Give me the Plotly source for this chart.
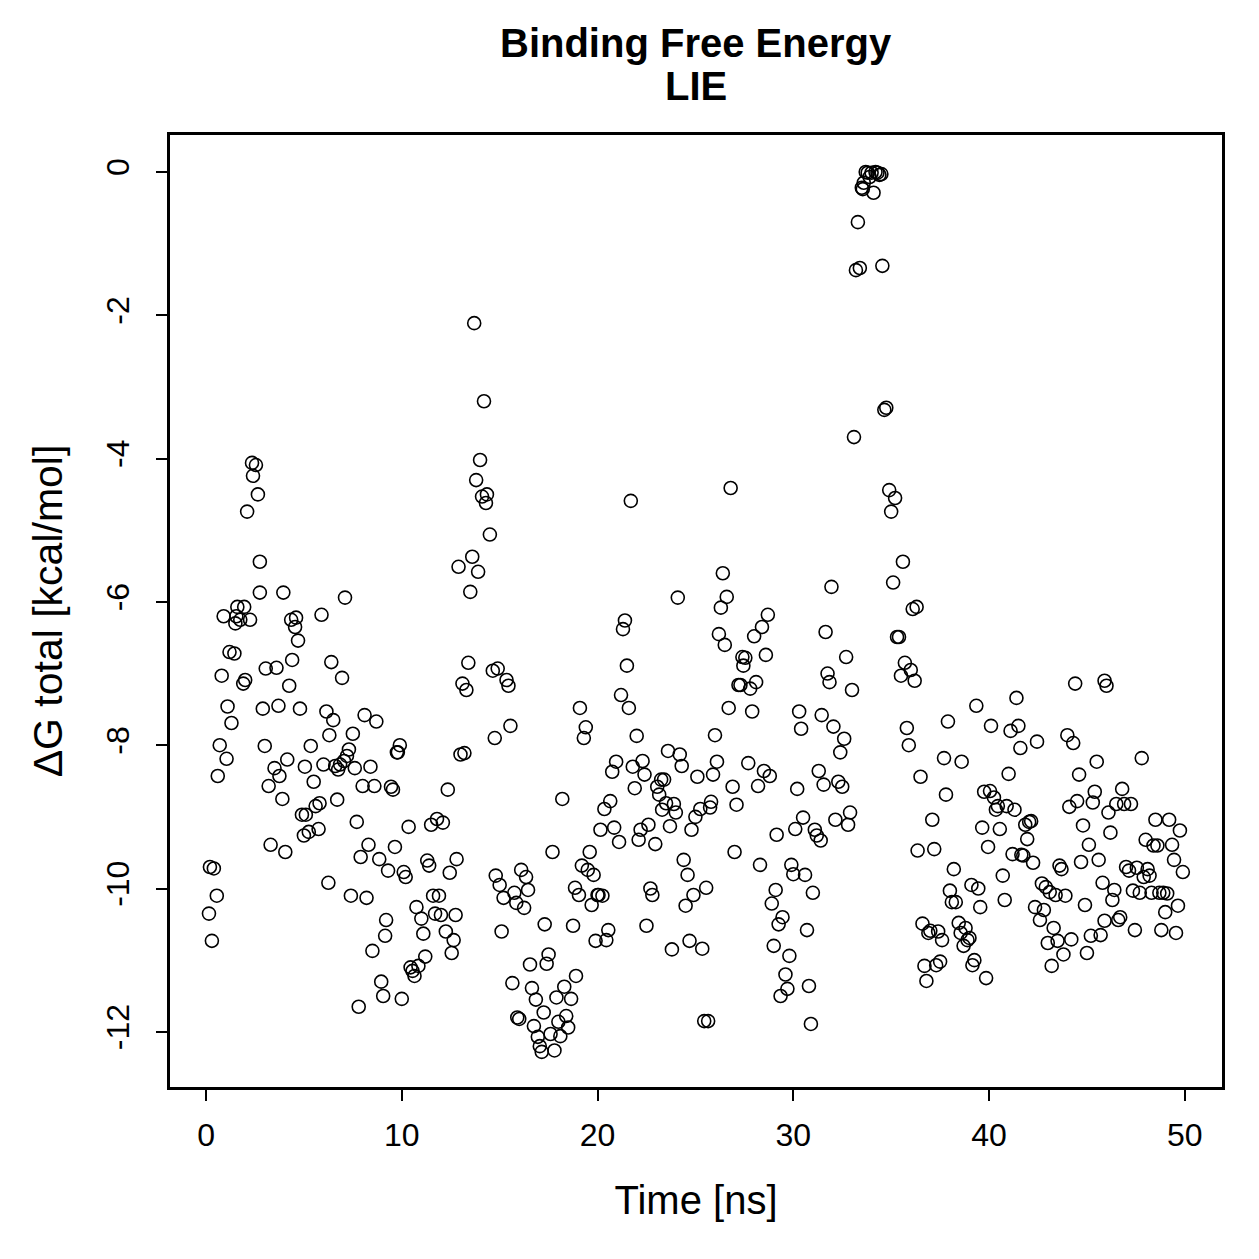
import plotly.graph_objects as go

time_ns = [
0.15,0.2,0.4,0.3,0.55,0.6,0.7,0.8,0.9,1.05,1.1,1.2,1.3,1.45,1.5,1.55,1.6,1.75,1.9,1.95,
2.0,2.1,2.25,2.35,2.4,2.55,2.65,2.75,2.75,2.9,3.0,3.05,3.2,3.3,3.5,3.6,3.7,3.75,3.9,3.95,
4.05,4.15,4.25,4.35,4.4,4.55,4.6,4.7,4.8,4.9,5.05,
5.0,5.1,5.25,5.35,5.5,5.6,5.75,5.8,5.9,6.0,6.15,6.25,6.3,6.4,6.5,6.6,6.7,6.75,6.85,6.95,
7.05,7.1,7.2,7.3,7.4,7.5,7.6,7.7,7.8,7.9,8.0,8.1,8.2,8.3,8.4,8.5,8.6,8.7,8.85,8.95,
9.05,9.15,9.2,9.3,9.45,9.55,9.65,9.75,9.8,9.9,10.0,10.1,10.2,10.35,10.45,10.55,10.65,10.75,10.85,11.0,
11.1,11.2,11.3,11.4,11.5,11.6,11.7,11.8,11.9,12.0,12.1,12.25,12.35,12.45,12.55,12.65,12.75,12.8,12.9,13.0,
13.1,13.2,13.3,13.4,13.5,13.6,13.7,13.8,13.9,14.0,14.1,14.2,14.3,14.35,14.5,14.65,14.75,14.8,14.9,15.0,
15.1,15.2,15.35,15.45,15.55,15.65,15.75,15.85,15.9,16.0,16.1,16.25,16.35,16.45,16.55,16.65,16.75,16.85,16.95,17.05,
17.15,17.25,17.3,17.4,17.5,17.6,17.7,17.8,17.9,18.0,18.1,18.2,18.3,18.4,18.5,18.65,18.75,18.85,18.9,19.05,
19.1,19.2,19.3,19.4,19.5,19.6,19.7,19.8,19.9,20.0,20.05,20.15,20.25,20.35,20.45,20.55,20.65,20.75,20.85,20.95,
21.1,21.2,21.3,21.4,21.5,21.6,21.7,21.8,21.9,22.0,22.1,22.2,22.3,22.4,22.5,22.6,22.7,22.8,22.95,23.05,
23.15,23.25,23.3,23.4,23.5,23.6,23.7,23.8,23.9,24.0,24.1,24.2,24.3,24.4,24.5,24.6,24.7,24.8,24.9,25.0,
25.1,25.25,25.35,25.45,25.55,25.65,25.75,25.8,25.9,26.0,26.1,26.2,26.3,26.4,26.5,26.6,26.7,26.8,26.9,27.0,
27.1,27.2,27.3,27.4,27.45,27.55,27.7,27.8,27.9,28.0,28.1,28.2,28.3,28.4,28.5,28.6,28.7,28.8,28.9,29.0,
29.1,29.15,29.25,29.35,29.45,29.6,29.7,29.8,29.9,30.0,30.1,30.2,30.3,30.4,30.5,30.6,30.7,30.8,30.9,31.0,
31.1,31.2,31.3,31.4,31.45,31.55,31.65,31.75,31.85,31.95,32.05,32.15,32.3,32.4,32.5,32.6,32.7,32.8,32.9,33.0,
33.1,33.2,33.3,33.4,33.5,33.55,33.6,33.7,33.8,33.9,34.0,34.1,34.2,34.3,34.4,34.5,34.55,34.65,34.75,34.9,
35.0,35.1,35.2,35.3,35.4,35.5,35.6,35.7,35.8,35.9,36.0,36.1,36.2,36.3,36.35,36.5,36.6,36.7,36.8,36.9,
37.0,37.1,37.2,37.3,37.4,37.5,37.6,37.7,37.8,37.9,38.0,38.1,38.2,38.3,38.45,38.55,38.6,38.7,38.8,38.9,
39.0,39.1,39.15,39.25,39.35,39.45,39.55,39.65,39.75,39.85,39.95,40.05,40.1,40.25,40.35,40.45,40.55,40.7,40.8,40.9,
41.0,41.1,41.2,41.3,41.4,41.5,41.6,41.65,41.75,41.85,41.95,42.05,42.15,42.25,42.35,42.45,42.6,42.7,42.8,42.9,
43.0,43.1,43.2,43.3,43.4,43.5,43.6,43.7,43.8,43.9,44.0,44.1,44.2,44.3,44.4,44.5,44.6,44.7,44.8,44.9,
45.0,45.1,45.2,45.3,45.4,45.5,45.6,45.7,45.8,45.9,45.9,46.0,46.1,46.2,46.3,46.4,46.5,46.6,46.7,46.8,
46.9,47.0,47.15,47.25,47.35,47.45,47.55,47.7,47.8,47.9,48.0,48.1,48.2,48.3,48.4,48.5,48.6,48.7,48.8,48.9,
49.0,49.1,49.2,49.35,49.45,49.55,49.65,49.75,49.9,
]

dg_total = [
-10.35,-9.7,-9.72,-10.73,-10.1,-8.43,-8.0,-7.03,-6.2,-8.19,-7.46,-6.7,-7.69,-6.72,-6.3,-6.2,-6.07,-6.25,-7.14,-6.07,
-7.09,-4.74,-6.25,-4.06,-4.24,-4.09,-4.5,-5.44,-5.87,-7.49,-8.01,-6.93,-8.57,-9.39,-8.32,-6.92,-7.45,-8.43,-8.75,-5.87,
-9.49,-8.2,-7.17,-6.25,-6.81,-6.35,-6.22,-6.54,-7.49,-8.97,-8.3,
-9.26,-8.97,-9.21,-8.01,-8.51,-8.85,-9.17,-8.81,-6.18,-8.27,-7.53,-9.92,-7.86,-6.84,-7.65,-8.29,-8.76,-8.34,-8.27,-7.06,
-8.22,-5.94,-8.15,-8.06,-10.1,-7.84,-8.32,-9.07,-11.65,-9.56,-8.57,-7.58,-10.13,-9.39,-8.3,-10.87,-8.57,-7.67,-9.59,-11.3,
-11.5,-10.66,-10.44,-9.75,-8.58,-8.62,-9.42,-8.1,-8.1,-8.0,-11.54,-9.77,-9.84,-9.14,-11.1,-11.15,-11.22,-10.26,-11.08,-10.42,
-10.63,-10.95,-9.61,-9.68,-9.11,-10.1,-10.35,-9.03,-10.1,-10.37,-9.08,-10.6,-8.62,-9.78,-10.9,-10.72,-10.37,-9.59,-5.51,-8.13,
-7.14,-8.11,-7.23,-6.85,-5.86,-5.37,-2.11,-4.3,-5.58,-4.02,-4.53,-3.2,-4.62,-4.5,-5.06,-6.96,-7.9,-9.82,-6.93,-9.95,
-10.6,-10.13,-7.09,-7.17,-7.73,-11.32,-10.06,-10.2,-11.8,-11.82,-9.74,-10.27,-9.84,-10.02,-11.06,-11.39,-11.92,-11.55,-12.07,-12.2,
-12.28,-11.73,-10.5,-11.05,-10.92,-12.03,-9.49,-12.26,-11.52,-11.86,-12.06,-8.75,-11.37,-11.78,-11.94,-11.54,-10.52,-9.99,-11.22,-10.09,
-7.48,-9.68,-7.9,-7.75,-9.74,-9.49,-10.23,-9.81,-10.73,-10.09,-10.09,-9.18,-10.1,-8.89,-10.72,-10.58,-8.78,-8.37,-9.15,-8.23,
-9.35,-7.3,-6.38,-6.26,-6.89,-7.48,-4.59,-8.3,-8.6,-7.87,-9.32,-9.18,-8.22,-8.41,-10.52,-9.11,-10.0,-10.09,-9.38,-8.58,
-8.69,-8.48,-8.9,-8.48,-8.81,-8.08,-9.13,-10.85,-8.82,-8.94,-5.94,-8.13,-8.29,-9.6,-10.24,-9.81,-10.73,-9.18,-10.09,-9.0,
-8.44,-8.89,-10.84,-11.85,-9.99,-11.85,-8.87,-8.79,-8.41,-7.86,-8.23,-6.45,-6.08,-5.6,-6.6,-5.93,-7.48,-4.41,-8.58,-9.49,
-8.83,-7.16,-7.16,-6.77,-6.89,-6.78,-8.25,-7.21,-7.53,-6.48,-7.12,-8.57,-9.67,-6.35,-8.36,-6.74,-6.18,-8.43,-10.21,-10.8,
-10.02,-9.25,-10.5,-11.5,-10.4,-11.2,-11.4,-10.94,-9.67,-9.8,-9.17,-8.61,-7.53,-7.77,-9.01,-9.81,-10.58,-11.36,-11.89,-10.06,
-9.18,-9.26,-8.36,-9.33,-7.58,-8.55,-6.42,-7.0,-7.12,-5.79,-7.74,-9.04,-8.51,-8.1,-8.58,-7.91,-6.77,-9.11,-8.94,-7.23,
-3.7,-1.37,-0.7,-1.34,-0.22,-0.24,-0.15,0.0,-0.01,-0.07,-0.01,-0.29,0.0,-0.01,-0.04,-0.03,-1.31,-3.32,-3.29,-4.44,
-4.74,-5.73,-4.55,-6.49,-6.49,-7.03,-5.44,-6.85,-7.76,-8.0,-6.95,-6.1,-7.1,-6.07,-9.47,-8.44,-10.49,-11.08,-11.29,-10.62,
-10.59,-9.04,-9.45,-11.07,-10.6,-11.02,-10.72,-8.18,-8.69,-7.67,-10.03,-10.19,-9.73,-10.19,-10.48,-10.62,-8.23,-10.8,-10.55,-10.72,
-10.69,-9.95,-11.07,-11.0,-7.45,-10.0,-10.26,-9.15,-8.65,-11.25,-9.42,-8.64,-7.73,-8.73,-8.9,-8.85,-9.17,-9.82,-10.16,-8.85,
-8.4,-7.8,-9.52,-8.9,-7.34,-7.73,-8.04,-9.53,-9.54,-9.11,-9.31,-9.07,-9.06,-9.64,-10.26,-7.95,-10.44,-9.93,-10.3,-9.98,
-10.76,-10.05,-11.08,-10.55,-10.09,-10.73,-9.68,-9.73,-10.92,-10.1,-7.86,-8.86,-10.71,-7.97,-7.14,-8.78,-8.41,-9.63,-9.12,-10.23,
-10.9,-9.39,-10.66,-8.8,-8.65,-8.23,-9.6,-10.65,-9.92,-10.45,-7.1,-7.17,-8.94,-9.22,-10.16,-10.02,-8.82,-10.44,-10.4,-8.61,
-8.82,-9.7,-9.75,-8.82,-10.03,-10.58,-9.71,-10.06,-8.18,-9.84,-9.32,-9.73,-9.82,-10.06,-9.4,-9.04,-9.4,-10.06,-10.58,-10.06,
-10.33,-10.07,-9.04,-9.39,-9.6,-10.62,-10.24,-9.19,-9.77,
]

x_ticks = [0, 10, 20, 30, 40, 50]
y_ticks = [0, -2, -4, -6, -8, -10, -12]
title_lines = ["Binding Free Energy", "LIE"]

FONT = "Liberation Sans, Arial, Helvetica, sans-serif"

fig = go.Figure(go.Scatter(
    x=time_ns, y=dg_total, mode="markers",
    marker=dict(symbol="circle-open", size=13, color="black", line=dict(width=1.6, color="black")),
    showlegend=False, hoverinfo="x+y",
))

axis_common = dict(
    showgrid=False, zeroline=False, showline=True, linecolor="black", linewidth=2.5,
    mirror=True, ticks="outside", ticklen=11, tickwidth=2, tickcolor="black",
    tickfont=dict(family=FONT, size=32, color="black"),
)

fig.update_layout(
    width=1259, height=1259,
    paper_bgcolor="white", plot_bgcolor="white",
    margin=dict(l=170, r=37, t=135, b=172),
    font=dict(family=FONT, color="black"),
    xaxis=dict(range=[-1.84, 51.9], tickvals=x_ticks, ticktext=[str(v) for v in x_ticks],
               ticklabelstandoff=7,
               title=dict(text="Time [ns]", font=dict(family=FONT, size=40), standoff=34),
               **axis_common),
    yaxis=dict(range=[-12.77, 0.516], tickvals=y_ticks, ticktext=[str(v) for v in y_ticks],
               tickangle=-90, ticklabelstandoff=14,
               title=dict(text="ΔG total [kcal/mol]", font=dict(family=FONT, size=41), standoff=26),
               **axis_common),
    annotations=[
        dict(text="<b>%s</b>" % title_lines[0], xref="paper", yref="paper", x=0.5, y=1.071,
             xanchor="center", yanchor="bottom", showarrow=False,
             font=dict(family=FONT, size=40, color="black")),
        dict(text="<b>%s</b>" % title_lines[1], xref="paper", yref="paper", x=0.5, y=1.0265,
             xanchor="center", yanchor="bottom", showarrow=False,
             font=dict(family=FONT, size=40, color="black")),
    ],
)

fig.write_html("out.html")
